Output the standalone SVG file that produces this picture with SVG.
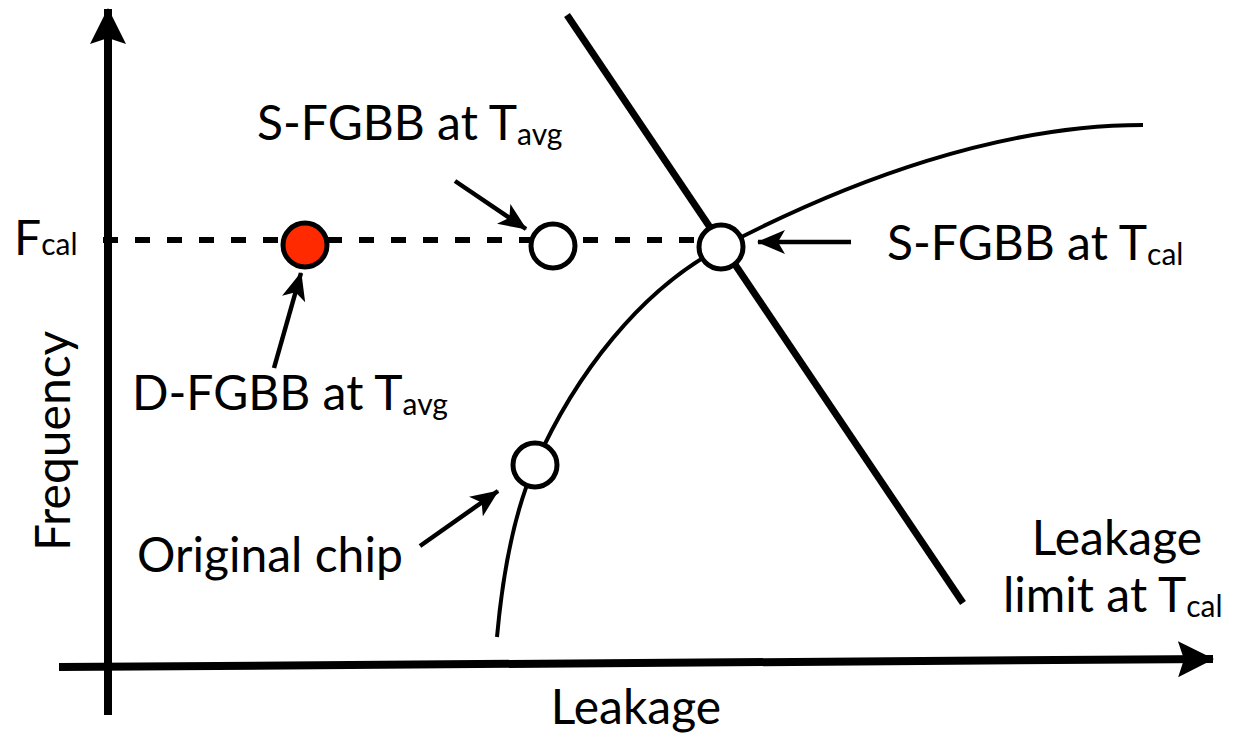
<svg xmlns="http://www.w3.org/2000/svg" width="1234" height="737" viewBox="0 0 1234 737">
<style>
  text { font-family: Lato, "Open Sans", "Liberation Sans", sans-serif; fill: #000; }
  .lbl { font-size: 48px; }
  .sub { font-size: 30px; }
  .axis { stroke: #000; stroke-width: 8; fill: none; }
  .ann { stroke: #000; stroke-width: 4.5; fill: none; marker-end: url(#head); }
  .pt { stroke: #000; stroke-width: 5; fill: #fff; }
</style>
<defs>
  <marker id="head" markerUnits="userSpaceOnUse" markerWidth="28" markerHeight="24" viewBox="0 0 28 24" refX="27" refY="12" orient="auto">
    <path d="M0,0 L28,12 L0,24 L7,12 z" fill="#000"/>
  </marker>
  <marker id="axhead" markerUnits="userSpaceOnUse" markerWidth="36" markerHeight="36" viewBox="0 0 36 36" refX="35" refY="18" orient="auto">
    <path d="M0,0 L36,18 L0,36 L6,18 z" fill="#000"/>
  </marker>
</defs>
<rect width="1234" height="737" fill="#fff"/>
<g id="connectors">
  <line class="axis" x1="108" y1="715" x2="108" y2="9" marker-end="url(#axhead)"/>
  <line class="axis" x1="59" y1="667" x2="1213" y2="659" marker-end="url(#axhead)"/>
  <line x1="103" y1="240" x2="700" y2="240" stroke="#000" stroke-width="6" stroke-dasharray="15 17"/>
  <line x1="567" y1="15" x2="963" y2="603" stroke="#000" stroke-width="7"/>
  <path d="M497,637 C503,570 515,510 535,465 C575,375 640,290 722,247 C850,180 1000,125 1143,125" stroke="#000" stroke-width="4" fill="none"/>
  <line class="ann" x1="455" y1="181" x2="526" y2="229"/>
  <line class="ann" x1="274" y1="368" x2="301" y2="273"/>
  <line class="ann" x1="851" y1="242" x2="758" y2="242"/>
  <line class="ann" x1="420" y1="546" x2="498" y2="491"/>
</g>
<g id="d-fgbb-point"><circle cx="305" cy="245" r="22" stroke="#000" stroke-width="5" fill="#ff2a00"/></g>
<g id="s-fgbb-avg-point"><circle class="pt" cx="553" cy="246" r="22"/></g>
<g id="s-fgbb-cal-point"><circle class="pt" cx="721" cy="247" r="22"/></g>
<g id="original-point"><circle class="pt" cx="535" cy="465" r="22"/></g>
<g id="label-s-fgbb-avg"><text class="lbl" x="257" y="140">S-FGBB at T<tspan class="sub" dy="5">avg</tspan></text></g>
<g id="label-fcal"><text class="lbl" x="14" y="255">F<tspan class="sub" dy="0">cal</tspan></text></g>
<g id="label-frequency"><text class="lbl" transform="translate(70,551) rotate(-90)" x="0" y="0">Frequency</text></g>
<g id="label-d-fgbb"><text class="lbl" x="132" y="410">D-FGBB at T<tspan class="sub" dy="5">avg</tspan></text></g>
<g id="label-original"><text class="lbl" x="137" y="572">Original chip</text></g>
<g id="label-s-fgbb-cal"><text class="lbl" x="887" y="260">S-FGBB at T<tspan class="sub" dy="5">cal</tspan></text></g>
<g id="label-leakage-limit"><text class="lbl" x="1117" y="555" text-anchor="middle">Leakage</text><text class="lbl" x="1003" y="612">limit at T<tspan class="sub" dy="5">cal</tspan></text></g>
<g id="label-leakage"><text class="lbl" x="636" y="724" text-anchor="middle">Leakage</text></g>
</svg>
